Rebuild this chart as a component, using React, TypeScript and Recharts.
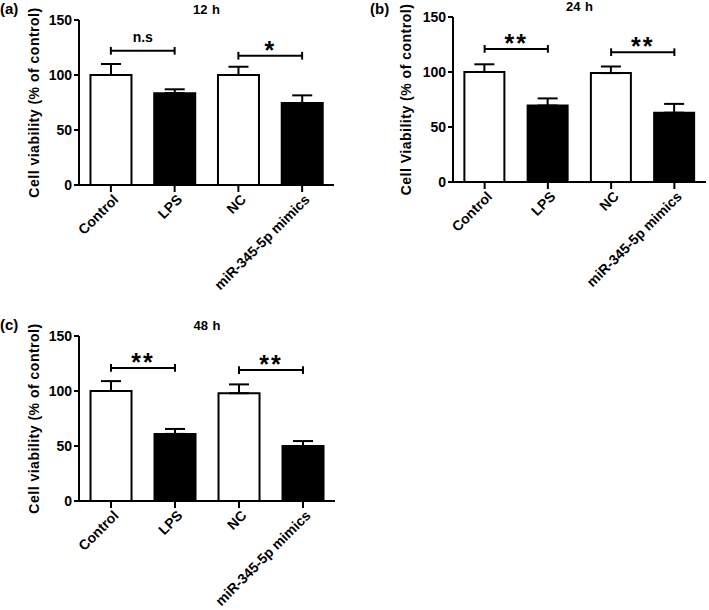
import { BarChart, Bar, XAxis, YAxis, Cell, ErrorBar, ReferenceLine } from 'recharts'

const FONT = '"Liberation Sans", Arial, Helvetica, sans-serif'

// groups and fills shared by all panels
const groups = ['Control', 'LPS', 'NC', 'miR-345-5p mimics']
const fills = ['#fff', '#000', '#fff', '#000']
const yTicks = [0, 50, 100, 150]

// (a) 12 h
const viability12h = [100, 83.5, 100, 74.5]
const error12h = [10, 3.5, 7.5, 7]
const marks12h = [
  { from: 'Control', to: 'LPS', y: 122, mark: 'n.s' },
  { from: 'NC', to: 'miR-345-5p mimics', y: 117.5, mark: '*' },
]

// (b) 24 h
const viability24h = [100, 69.5, 99, 63]
const error24h = [7, 6.5, 6, 8]
const marks24h = [
  { from: 'Control', to: 'LPS', y: 121, mark: '**' },
  { from: 'NC', to: 'miR-345-5p mimics', y: 118, mark: '**' },
]

// (c) 48 h
const viability48h = [100, 61, 98, 50]
const error48h = [9, 4.5, 8, 4.5]
const marks48h = [
  { from: 'Control', to: 'LPS', y: 121, mark: '**' },
  { from: 'NC', to: 'miR-345-5p mimics', y: 119, mark: '**' },
]

const GroupTick = ({ x, y, payload }: any) => (
  <g transform={`translate(${x},${y})`}>
    <text
      transform="rotate(-45)"
      textAnchor="end"
      dy="0.85em"
      fontSize={14}
      fontWeight="bold"
      fontFamily={FONT}
      fill="#000"
    >
      {payload.value}
    </text>
  </g>
)

function Panel({ tag, title, yLabel, values, errors, marks, left, top, width, height, yAxisWidth, labelX, right, tagLeft, tagTop }: {
  tag: string
  title: string
  yLabel: string
  values: number[]
  errors: number[]
  marks: { from: string; to: string; y: number; mark: string }[]
  left: number
  top: number
  width: number
  height: number
  yAxisWidth: number
  labelX: number
  right: number
  tagLeft: number
  tagTop: number
}) {
  const data = groups.map((g, i) => ({ name: g, value: values[i], err: [0, errors[i]] }))
  const plotLeft = yAxisWidth
  const plotRight = width - right
  return (
    <div style={{ position: 'absolute', left, top, width, height }}>
      <div style={{ position: 'absolute', left: tagLeft, top: tagTop, fontFamily: FONT, fontWeight: 'bold', fontSize: 15, lineHeight: 1 }}>
        {tag}
      </div>
      <div style={{ position: 'absolute', left: plotLeft, width: plotRight - plotLeft, top: 3, textAlign: 'center', fontFamily: FONT, fontWeight: 'bold', fontSize: 13, lineHeight: 1, wordSpacing: 1 }}>
        {title}
      </div>
      <BarChart
        width={width}
        height={height}
        data={data}
        margin={{ top: 20, right, bottom: 0, left: 0 }}
        barCategoryGap="18%"
        style={{ position: 'absolute', left: 0, top: 0 }}
      >
        <XAxis
          dataKey="name"
          height={height - 185}
          interval={0}
          axisLine={{ stroke: '#000', strokeWidth: 2 }}
          tickLine={{ stroke: '#000', strokeWidth: 2 }}
          tickSize={7}
          tickMargin={0}
          tick={<GroupTick />}
        />
        <YAxis
          width={yAxisWidth}
          domain={[0, 150]}
          ticks={yTicks}
          interval={0}
          axisLine={{ stroke: '#000', strokeWidth: 2 }}
          tickLine={{ stroke: '#000', strokeWidth: 2 }}
          tickSize={5}
          tickMargin={2}
          tick={{ fontSize: 14, fontWeight: 'bold', fill: '#000', fontFamily: FONT }}
          label={{
            content: ({ viewBox }: any) => {
              const cy = viewBox.y + viewBox.height / 2
              return (
                <text
                  x={labelX}
                  y={cy}
                  transform={`rotate(-90 ${labelX} ${cy})`}
                  textAnchor="middle"
                  dominantBaseline="central"
                  fontSize={14}
                  fontWeight="bold"
                  fontFamily={FONT}
                  letterSpacing={0.5}
                  fill="#000"
                >
                  {yLabel}
                </text>
              )
            },
          }}
        />
        <Bar dataKey="value" isAnimationActive={false}>
          {data.map((d, i) => (
            <Cell key={d.name} fill={fills[i]} stroke="#000" strokeWidth={2} />
          ))}
          <ErrorBar dataKey="err" direction="y" width={10} stroke="#000" strokeWidth={2} isAnimationActive={false} />
        </Bar>
        {marks.map(m => (
          <ReferenceLine
            key={m.from + 'h'}
            segment={[{ x: m.from, y: m.y }, { x: m.to, y: m.y }]}
            stroke="#000"
            strokeWidth={2}
            ifOverflow="visible"
            label={{
              value: m.mark,
              position: 'top',
              offset: m.mark === 'n.s' ? 9 : -3,
              fontSize: m.mark === 'n.s' ? 14 : 25,
              fontWeight: 'bold',
              fontFamily: FONT,
              letterSpacing: m.mark === 'n.s' ? 0 : 2,
              fill: '#000',
            }}
          />
        ))}
        {marks.flatMap(m => [m.from, m.to].map(x => (
          <ReferenceLine
            key={m.from + x}
            segment={[{ x, y: m.y - 3.5 }, { x, y: m.y + 3.5 }]}
            stroke="#000"
            strokeWidth={2}
            ifOverflow="visible"
          />
        )))}
      </BarChart>
    </div>
  )
}

export default function App() {
  return (
    <div style={{ position: 'absolute', left: 0, top: 0, width: 709, height: 610, background: '#fff', overflow: 'hidden' }}>
      <Panel
        tag="(a)" title="12 h" yLabel="Cell viability (% of control)"
        values={viability12h} errors={error12h} marks={marks12h}
        left={0} top={0} width={350} height={300} yAxisWidth={79} labelX={34} right={16}
        tagLeft={0} tagTop={1}
      />
      <Panel
        tag="(b)" title="24 h" yLabel="Cell Viability (% of control)"
        values={viability24h} errors={error24h} marks={marks24h}
        left={360} top={-3} width={349} height={300} yAxisWidth={93} labelX={46} right={3}
        tagLeft={10} tagTop={4}
      />
      <Panel
        tag="(c)" title="48 h" yLabel="Cell viability (% of control)"
        values={viability48h} errors={error48h} marks={marks48h}
        left={0} top={316} width={350} height={294} yAxisWidth={79} labelX={34} right={15}
        tagLeft={0} tagTop={1}
      />
    </div>
  )
}
